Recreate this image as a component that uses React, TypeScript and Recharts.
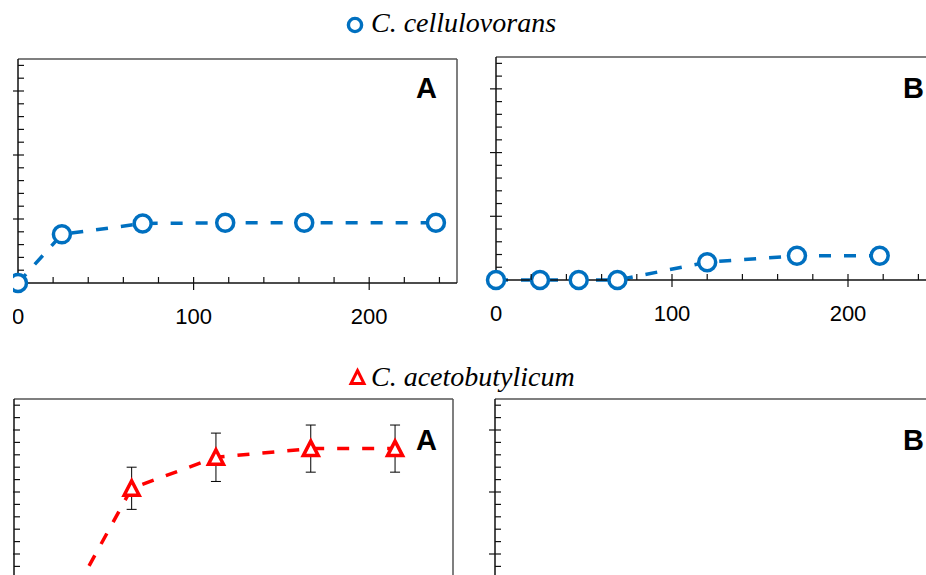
import React from "react";
import { LineChart, Line, XAxis, YAxis, ReferenceLine, ErrorBar } from "recharts";

const BLUE = "#0070C0";
const RED = "#FF0000";

// C. cellulovorans, panel A
const cellATime = [0, 25, 71, 118, 163, 238];
const cellAValue = [0, 0.76, 0.93, 0.94, 0.94, 0.94];

// C. cellulovorans, panel B
const cellBTime = [0, 25, 47, 69, 120, 171, 218];
const cellBValue = [0, 0, 0, 0, 0.28, 0.38, 0.38];

// C. acetobutylicum, panel A (with error bars)
const acetATime = [0, 30, 67, 115, 169, 217];
const acetAValue = [0, 0.15, 2.06, 2.56, 2.7, 2.7];
const acetAError = [0, 0.05, 0.34, 0.39, 0.38, 0.38];

// axis range / ticks
const xDomain = [0, 250];
const yDomain = [0, 3.5];
const xTicks = [0, 20, 40, 60, 80, 100, 120, 140, 160, 180, 200, 220, 240];
const xLabels = [0, 100, 200];
const yTicks = [0, 0.2, 0.4, 0.6, 0.8, 1, 1.2, 1.4, 1.6, 1.8, 2, 2.2, 2.4, 2.6, 2.8, 3, 3.2, 3.4];
const yMajor = [0, 1, 2, 3];

const cellARows = cellATime.map((t, i) => ({ t, v: cellAValue[i] }));
const cellBRows = cellBTime.map((t, i) => ({ t, v: cellBValue[i] }));
const acetARows = acetATime.map((t, i) => ({ t, v: acetAValue[i], err: acetAError[i] }));
// panel B of C. acetobutylicum: nothing but the frame is visible in the crop
const emptyRows = xDomain.map((t) => ({ t, v: null }));

const AXIS = "#111";
const FRAME = "#555";

const makeXTick = (showLabels: boolean) => (p: any) => {
  const val = p.payload.value;
  const major = xLabels.includes(val);
  return (
    <g>
      {val !== 0 && (
        <line x1={p.x} x2={p.x} y1={p.y - 6} y2={major ? p.y + 7 : p.y} stroke={AXIS} strokeWidth={1.2} />
      )}
      {major && showLabels && (
        <text x={p.x} y={p.y + 41} textAnchor="middle" fontFamily="Liberation Sans" fontSize={22} fill="#000">
          {val}
        </text>
      )}
    </g>
  );
};

const YTick = (p: any) => {
  const major = yMajor.includes(p.payload.value);
  if (p.payload.value === 0) return <g />;
  return <line x1={major ? p.x - 6 : p.x} x2={p.x + 6} y1={p.y} y2={p.y} stroke={AXIS} strokeWidth={1.2} />;
};

const Triangle = (p: any) => {
  if (p.cx == null || p.cy == null) return <g key={p.index} />;
  const { cx, cy } = p;
  return (
    <path
      key={p.index}
      d={`M${cx} ${cy - 7.5} L${cx + 7.5} ${cy + 7} L${cx - 7.5} ${cy + 7} Z`}
      fill="#fff"
      stroke={RED}
      strokeWidth={3.5}
      strokeLinejoin="miter"
    />
  );
};

function Panel({ left, top, axisWidth, plotW, plotH, rows, showLabels = true, fixed = false, children }: any) {
  const w = axisWidth + plotW + 2;
  const h = 9 + plotH + 50;
  return (
    <div style={{ position: "absolute", left, top, width: w, height: h, overflow: "hidden" }}>
      <LineChart width={w} height={h} data={rows} margin={{ top: 9, right: 2, bottom: 0, left: 0 }}>
        <XAxis
          dataKey="t"
          type="number"
          domain={xDomain}
          allowDataOverflow={fixed}
          ticks={xTicks}
          interval={0}
          tick={makeXTick(showLabels)}
          tickLine={false}
          tickSize={0}
          tickMargin={0}
          height={50}
          axisLine={{ stroke: AXIS, strokeWidth: 1.5 }}
        />
        <YAxis
          type="number"
          domain={yDomain}
          allowDataOverflow={fixed}
          ticks={yTicks}
          interval={0}
          tick={YTick}
          tickLine={false}
          tickSize={0}
          tickMargin={0}
          width={axisWidth}
          axisLine={{ stroke: AXIS, strokeWidth: 1.5 }}
        />
        <ReferenceLine y={yDomain[1]} stroke={FRAME} strokeWidth={1.5} />
        <ReferenceLine x={xDomain[1]} stroke={FRAME} strokeWidth={1.5} />
        {children}
      </LineChart>
    </div>
  );
}

export default function App() {
  return (
    <div style={{ position: "fixed", left: 0, top: 0, width: 926, height: 575, overflow: "hidden", background: "#fff" }}>
      <Panel left={13} top={50} axisWidth={5} plotW={439} plotH={224} rows={cellARows}>
        <Line
          type="linear"
          dataKey="v"
          stroke={BLUE}
          strokeWidth={3.5}
          strokeDasharray="12 13"
          dot={{ r: 8.5, fill: "#fff", stroke: BLUE, strokeWidth: 3.5, strokeDasharray: "none" }}
          activeDot={false}
          isAnimationActive={false}
        />
      </Panel>
      <Panel left={470} top={48} axisWidth={26} plotW={440} plotH={223} rows={cellBRows}>
        <Line
          type="linear"
          dataKey="v"
          stroke={BLUE}
          strokeWidth={3.5}
          strokeDasharray="12 13"
          dot={{ r: 8.5, fill: "#fff", stroke: BLUE, strokeWidth: 3.5, strokeDasharray: "none" }}
          activeDot={false}
          isAnimationActive={false}
        />
      </Panel>
      <Panel left={13} top={390} axisWidth={1} plotW={439} plotH={217} rows={acetARows} showLabels={false}>
        <Line
          type="linear"
          dataKey="v"
          stroke={RED}
          strokeWidth={3.5}
          strokeDasharray="12 13"
          dot={Triangle}
          activeDot={false}
          isAnimationActive={false}
        >
          <ErrorBar dataKey="err" direction="y" width={5} stroke="#000" strokeWidth={1} />
        </Line>
      </Panel>
      <Panel left={470} top={390} axisWidth={25} plotW={440} plotH={217} rows={emptyRows} showLabels={false} fixed>
        <Line type="linear" dataKey="v" stroke={RED} dot={false} activeDot={false} isAnimationActive={false} />
      </Panel>

      <svg width={926} height={575} style={{ position: "absolute", left: 0, top: 0 }}>
        <circle cx={355} cy={25} r={6.6} fill="#fff" stroke={BLUE} strokeWidth={3.4} />
        <text x={371} y={32} fontFamily="Liberation Serif" fontStyle="italic" fontSize={28} fill="#000">
          C. cellulovorans
        </text>
        <path d="M357.5 370.5 L364 383.5 L351 383.5 Z" fill="#fff" stroke={RED} strokeWidth={3} />
        <text x={371} y={386} fontFamily="Liberation Serif" fontStyle="italic" fontSize={28} fill="#000">
          C. acetobutylicum
        </text>
        <g fontFamily="Liberation Sans" fontWeight="bold" fontSize={29} fill="#000" textAnchor="end">
          <text x={437} y={98}>A</text>
          <text x={924} y={98}>B</text>
          <text x={437} y={450}>A</text>
          <text x={924} y={450}>B</text>
        </g>
      </svg>
    </div>
  );
}
